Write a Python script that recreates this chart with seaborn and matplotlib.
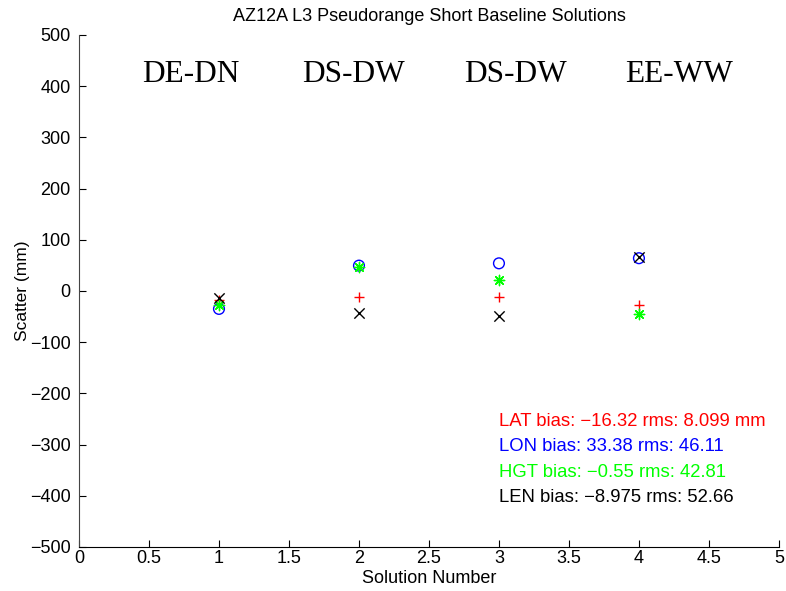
import numpy as np
import matplotlib
matplotlib.use("Agg")
import matplotlib.pyplot as plt
import pandas as pd
import seaborn as sns

sns.set_style("ticks")
plt.rcParams['font.family'] = ['Liberation Sans', 'DejaVu Sans']
plt.rcParams['text.color'] = 'black'
plt.rcParams['axes.labelcolor'] = 'black'
plt.rcParams['xtick.color'] = 'black'
plt.rcParams['ytick.color'] = 'black'

# solution values (mm)
solutions = [1, 2, 3, 4]
lat = [-17.5, -12, -11, -27]
lon = [-35, 49.5, 54, 64]
hgt = [-27, 47.5, 21.5, -45]
length = [-13.5, -43.5, -48, 66]

pair_names = ["DE-DN", "DS-DW", "DS-DW", "EE-WW"]
pair_x = [0.8, 1.96, 3.12, 4.29]

stats_lines = ["LAT bias: \u221216.32 rms: 8.099 mm",
               "LON bias: 33.38 rms: 46.11",
               "HGT bias: \u22120.55 rms: 42.81",
               "LEN bias: \u22128.975 rms: 52.66"]

series = [("LAT", lat, "+", "red"),
          ("LON", lon, "o", "blue"),
          ("HGT", hgt, (8, 2, 0), "lime"),
          ("LEN", length, "x", "black")]

df = pd.DataFrame({"Solution": solutions * 4,
                   "Scatter": lat + lon + hgt + length,
                   "Comp": sum([[s[0]] * 4 for s in series], [])})

fig = plt.figure(figsize=(7.86, 5.91), dpi=100)
ax = fig.add_axes([0.1005, 0.0745, 0.8905, 0.8663])

for name, vals, mk, col in series:
    sub = df[df.Comp == name]
    if mk == "o":
        sns.scatterplot(data=sub, x="Solution", y="Scatter", marker=mk, color=col,
                        facecolor="none", edgecolor=col, s=60, linewidth=1.0,
                        ax=ax, legend=False)
    else:
        sns.scatterplot(data=sub, x="Solution", y="Scatter", marker=mk, color=col,
                        s=55, linewidth=1.0, ax=ax, legend=False)

ax.set_xlim(0, 5)
ax.set_ylim(-500, 500)
ax.set_xticks(np.arange(0, 5.01, 0.5))
ax.set_xticklabels(["0", "0.5", "1", "1.5", "2", "2.5", "3", "3.5", "4", "4.5", "5"])
ax.set_yticks(np.arange(-500, 501, 100))
ax.set_yticklabels([str(v).replace("-", "\u2212") for v in range(-500, 501, 100)])
ax.tick_params(direction="in", length=5, width=0.8, labelsize=13)
ax.tick_params(axis="x", pad=2)
ax.tick_params(axis="y", pad=6)

for s in ["top", "right"]:
    ax.spines[s].set_visible(False)
ax.spines["left"].set_color("#444444")
ax.spines["left"].set_linewidth(0.8)
ax.spines["bottom"].set_linewidth(0.8)
ax.spines["bottom"].set_color("black")

ax.set_title("AZ12A L3 Pseudorange Short Baseline Solutions", fontsize=13, pad=10)
ax.set_xlabel("Solution Number", fontsize=13, labelpad=2)
ax.set_ylabel("Scatter (mm)", fontsize=12.5, labelpad=0)

for name, xp in zip(pair_names, pair_x):
    ax.text(xp, 408, name, ha="center", va="baseline", fontsize=22.5,
            family="Liberation Serif")

stat_colors = ["red", "blue", "lime", "black"]
for i, (txt, col) in enumerate(zip(stats_lines, stat_colors)):
    ax.text(3.0, -263 - 50 * i, txt, color=col, fontsize=13.3, va="baseline")

plt.savefig("out.png", dpi=100)
